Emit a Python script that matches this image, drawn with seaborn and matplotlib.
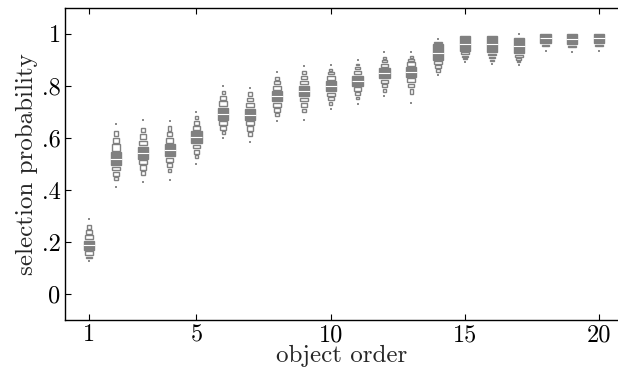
import matplotlib
matplotlib.use("Agg")
import matplotlib.pyplot as plt
import seaborn as sns
import numpy as np
import pandas as pd

# object order 1..20
objects = list(range(1, 21))

# letter values (lower / upper edge of each box level)
# level 1 = central filled box, levels 2-4 = hollow boxes, level 5 = extreme dots
lv1_lo = [0.170, 0.495, 0.520, 0.530, 0.580, 0.670, 0.670, 0.740, 0.760, 0.780,
          0.800, 0.830, 0.835, 0.900, 0.935, 0.930, 0.925, 0.965, 0.960, 0.965]
lv1_hi = [0.205, 0.545, 0.565, 0.575, 0.625, 0.715, 0.712, 0.780, 0.800, 0.818,
          0.838, 0.868, 0.872, 0.960, 0.990, 0.990, 0.985, 1.000, 1.000, 1.000]
lv2_lo = [0.150, 0.475, 0.500, 0.508, 0.560, 0.650, 0.650, 0.720, 0.740, 0.762,
          0.782, 0.812, 0.815, 0.885, 0.922, 0.918, 0.912, 0.955, 0.950, 0.955]
lv2_hi = [0.225, 0.575, 0.590, 0.600, 0.645, 0.740, 0.735, 0.800, 0.820, 0.838,
          0.858, 0.885, 0.890, 0.970, 0.995, 0.995, 0.992, 1.000, 1.000, 1.000]
lv3_lo = [0.140, 0.455, 0.478, 0.488, 0.540, 0.632, 0.628, 0.700, 0.718, 0.745,
          0.765, 0.795, 0.795, 0.870, 0.912, 0.906, 0.900, 0.948, 0.943, 0.948]
lv3_hi = [0.245, 0.600, 0.615, 0.622, 0.665, 0.762, 0.755, 0.818, 0.838, 0.853,
          0.873, 0.898, 0.903, 0.975, 0.998, 0.998, 0.995, 1.000, 1.000, 1.000]
lv4_lo = [0.132, 0.440, 0.458, 0.468, 0.522, 0.615, 0.608, 0.683, 0.698, 0.728,
          0.748, 0.778, 0.768, 0.855, 0.902, 0.896, 0.890, 0.942, 0.937, 0.942]
lv4_hi = [0.265, 0.627, 0.640, 0.645, 0.685, 0.782, 0.775, 0.836, 0.856, 0.866,
          0.886, 0.912, 0.916, 0.978, 1.000, 1.000, 0.998, 1.000, 1.000, 1.000]
lv5_lo = [0.125, 0.410, 0.430, 0.440, 0.500, 0.600, 0.585, 0.665, 0.670, 0.710,
          0.730, 0.760, 0.735, 0.840, 0.890, 0.885, 0.880, 0.935, 0.930, 0.935]
lv5_hi = [0.290, 0.655, 0.670, 0.665, 0.700, 0.800, 0.790, 0.855, 0.875, 0.880,
          0.900, 0.930, 0.930, 0.980, 1.000, 1.000, 0.998, 1.000, 1.000, 1.000]
medians = [0.188, 0.520, 0.542, 0.552, 0.602, 0.692, 0.690, 0.760, 0.780, 0.798,
           0.818, 0.848, 0.853, 0.928, 0.962, 0.960, 0.955, 0.985, 0.982, 0.985]

yticks = [0, 0.2, 0.4, 0.6, 0.8, 1.0]
ytick_labels = ["0", ".2", ".4", ".6", ".8", "1"]
xticks = [1, 5, 10, 15, 20]

sns.set_style("ticks")
plt.rcParams["font.family"] = ["cmr10", "DejaVu Serif"]
plt.rcParams["mathtext.fontset"] = "cm"
plt.rcParams["axes.formatter.use_mathtext"] = True

gray = "#808080"
gap = 0.006
fig = plt.figure(figsize=(6.18, 3.73), dpi=100)
ax = fig.add_axes([0.105, 0.142, 0.895, 0.837])

x = np.array(objects, dtype=float)

# hollow boxes stacked outwards from the filled centre
inner_lo, inner_hi = np.array(lv1_lo), np.array(lv1_hi)
for lo, hi, w in [(lv2_lo, lv2_hi, 0.29), (lv3_lo, lv3_hi, 0.21), (lv4_lo, lv4_hi, 0.13)]:
    lo, hi = np.array(lo), np.array(hi)
    up_b = inner_hi + gap
    up_h = hi - up_b
    keep = up_h > 0.003
    ax.bar(x[keep], up_h[keep], bottom=up_b[keep], width=w, color="white",
           edgecolor=gray, linewidth=1.0, zorder=2)
    lo_h = inner_lo - gap - lo
    keep = lo_h > 0.003
    ax.bar(x[keep], lo_h[keep], bottom=lo[keep], width=w, color="white",
           edgecolor=gray, linewidth=1.0, zorder=2)
    inner_lo, inner_hi = lo, hi

# filled central box
ax.bar(x, np.array(lv1_hi) - np.array(lv1_lo), bottom=lv1_lo, width=0.38,
       color=gray, edgecolor=gray, linewidth=1.0, zorder=3)

# extreme values as small dots
ext = pd.DataFrame({"object": objects * 2, "value": lv5_lo + lv5_hi})
ext = ext[ext["value"] < 0.999]
sns.scatterplot(data=ext, x="object", y="value", marker="s", s=3.5,
                color="#8c8c8c", linewidth=0, zorder=2, ax=ax)

med_df = pd.DataFrame({"object": objects, "median": medians})
sns.scatterplot(data=med_df, x="object", y="median", marker="_", s=80,
                color="white", linewidth=0.8, zorder=4, ax=ax)

ax.set_xlim(0.1, 20.7)
ax.set_ylim(-0.1, 1.1)
ax.set_xticks(xticks)
ax.set_xticklabels([str(t) for t in xticks])
ax.set_yticks(yticks)
ax.set_yticklabels(ytick_labels)
ax.tick_params(direction="in", length=4, width=0.8, labelsize=17.5,
               top=True, right=False, colors="black", pad=3)
ax.spines["right"].set_visible(False)
for s in ax.spines.values():
    s.set_linewidth(1.0)
    s.set_color("black")
ax.set_xlabel("object order", fontsize=18, labelpad=-1)
ax.set_ylabel("selection probability", fontsize=18, labelpad=3)

fig.savefig("out.png", dpi=100)
